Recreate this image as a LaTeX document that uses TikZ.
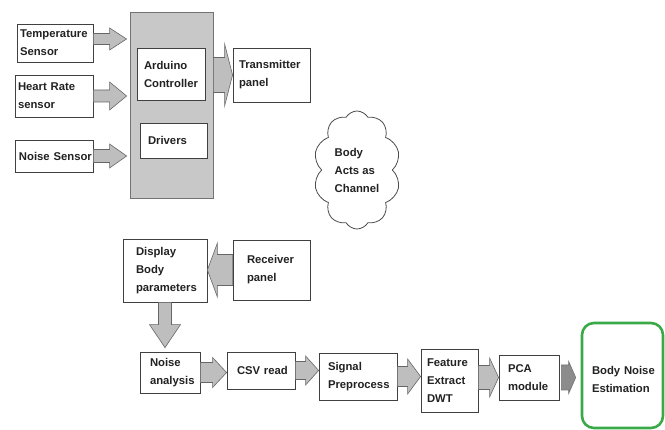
\documentclass[tikz,border=0pt]{standalone}
\usepackage{fontspec}
\setmainfont{Liberation Sans}
\usetikzlibrary{shapes.symbols,calc}
\hyphenpenalty=10000
\exhyphenpenalty=10000
\hbadness=10000
\hfuzz=50pt
\definecolor{txt}{HTML}{222222}
\definecolor{boxgray}{HTML}{C8C8C8}
\definecolor{arrfill}{HTML}{BEBEBE}
\definecolor{arrdark}{HTML}{8C8C8C}
\definecolor{estgreen}{HTML}{3AAA48}
% horizontal block arrow: #2 start, #3 tip, #4 shaft half, #5 head half, #6 head length (signed)
\newcommand\harrow[6][]{%
  \draw[barrow,#1] let \p1=#2, \p2=#3 in
    ({\x1},{\y1+#4}) -- ({\x2-(#6)},{\y1+#4}) -- ({\x2-(#6)},{\y1+#5}) -- ({\x2},{\y1})
    -- ({\x2-(#6)},{\y1-(#5)}) -- ({\x2-(#6)},{\y1-(#4)}) -- ({\x1},{\y1-(#4)}) -- cycle;}
% downward block arrow
\newcommand\varrow[6][]{%
  \draw[barrow,#1] let \p1=#2, \p2=#3 in
    ({\x1-(#4)},{\y1}) -- ({\x1-(#4)},{\y2+#6}) -- ({\x1-(#5)},{\y2+#6}) -- ({\x1},{\y2})
    -- ({\x1+#5},{\y2+#6}) -- ({\x1+#4},{\y2+#6}) -- ({\x1+#4},{\y1}) -- cycle;}
\begin{document}
\begin{tikzpicture}[x=1pt,y=-1pt,
  box/.style={draw=black!75, line width=0.8pt, fill=white, align=left, text=txt,
    inner ysep=0pt, font=\bfseries\fontsize{11.3}{18}\selectfont},
  pad/.style 2 args={minimum width=#1, text width=#1-2*#2, inner xsep=#2},
  barrow/.style={fill=arrfill, draw=black!60, line width=0.6pt, line join=miter},
  darkarrow/.style={fill=arrdark, draw=black!55}]
\useasboundingbox (0,0) rectangle (665,430);

% controller block
\node[draw=black!55, line width=0.8pt, fill=boxgray, minimum width=83, minimum height=186] (ctrl) at (171.5,105) {};
\node[box, pad={68}{7}, minimum height=52] (ard) at (171,74) {Arduino\\Controller};
\node[box, pad={67}{8}, minimum height=35] (drv) at (173.5,140.5) {Drivers};

% sensors
\node[box, pad={76}{3}, minimum height=38] (temp) at (55,43) {Temperature\\Sensor};
\node[box, pad={78}{3}, minimum height=42] (heart) at (54,96) {\mbox{Heart Rate}\\sensor};
\node[box, pad={78}{4}, minimum height=32] (noise) at (54,156) {\mbox{Noise Sensor}};

% transmitter
\node[box, pad={77}{6}, minimum height=54] (tx) at (271.5,75) {Transmitter\\panel};

% cloud
\node[cloud, cloud puffs=10, cloud puff arc=120, cloud ignores aspect, draw=black!70, line width=0.8pt,
  fill=white, minimum width=87, minimum height=118, align=left, text=txt, inner sep=0pt,
  font=\bfseries\fontsize{11.3}{18}\selectfont] (body) at (357,170) {Body\\Acts~as\\Channel};

% receiver side
\node[box, pad={84}{13}, minimum height=63] (disp) at (165,270.5) {Display\\Body\\parameters};
\node[box, pad={77}{14}, minimum height=60] (rx) at (271.5,270) {Receiver\\panel};

% processing chain
\node[box, pad={60}{10}, minimum height=41] (nan) at (170,372.5) {Noise\\analysis};
\node[box, pad={68}{10}, minimum height=37] (csv) at (261,370.5) {\mbox{CSV read}};
\node[box, pad={78}{9}, minimum height=47] (sig) at (358,376.5) {Signal\\Preprocess};
\node[box, pad={57}{6}, minimum height=63] (feat) at (449.5,380.5) {Feature\\Extract\\DWT};
\node[box, pad={60}{9}, minimum height=45] (pca) at (529,377.5) {PCA\\module};
\node[box, pad={81}{10}, draw=estgreen, line width=2.6pt, rounded corners=12pt, minimum height=105] (est) at (622.5,375.5) {\rule{0pt}{16pt}\mbox{Body Noise}\\Estimation};

% block arrows
\harrow{($(temp.east)+(0,-4)$)}{($(ctrl.west |- temp.east)+(-3,-4)$)}{5.5pt}{11pt}{17pt}
\harrow{(heart.east)}{($(ctrl.west |- heart.east)+(-3,0)$)}{6pt}{14pt}{17pt}
\harrow{(noise.east)}{($(ctrl.west |- noise.east)+(-3,0)$)}{6.5pt}{12pt}{17pt}
\harrow{(ctrl.east |- tx.west)}{(tx.west)}{17.5pt}{31pt}{8pt}
\harrow{(rx.west)}{(disp.east |- rx.west)}{15.5pt}{27pt}{-10pt}
\varrow{(disp.south)}{($(disp.south |- nan.north)+(0,-4)$)}{6.5pt}{15.5pt}{23pt}
\harrow{(nan.east)}{(csv.west |- nan.east)}{10pt}{15pt}{14pt}
\harrow{(csv.east)}{(sig.west |- csv.east)}{9pt}{14.5pt}{13pt}
\harrow{(sig.east)}{(feat.west |- sig.east)}{10pt}{17.5pt}{13pt}
\harrow{(feat.east |- pca.west)}{(pca.west)}{12pt}{19.5pt}{9pt}
\harrow[darkarrow]{($(pca.east)+(2,0)$)}{($(est.west |- pca.east)+(-5,0)$)}{12.5pt}{16pt}{7pt}
\end{tikzpicture}
\end{document}
